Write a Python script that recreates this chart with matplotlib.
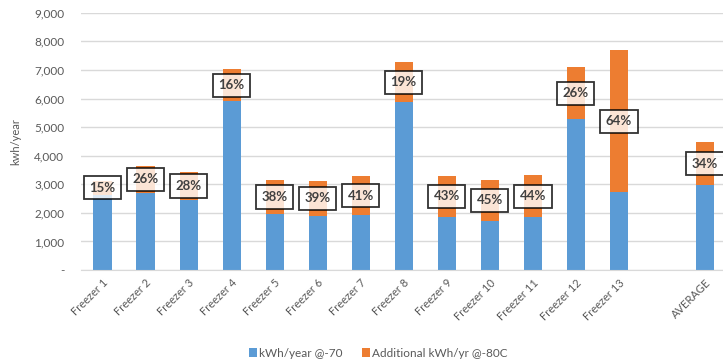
import matplotlib.pyplot as plt
from matplotlib.ticker import FuncFormatter

categories = ['Freezer 1', 'Freezer 2', 'Freezer 3', 'Freezer 4', 'Freezer 5',
              'Freezer 6', 'Freezer 7', 'Freezer 8', 'Freezer 9', 'Freezer 10',
              'Freezer 11', 'Freezer 12', 'Freezer 13', 'AVERAGE']
# slot index of each category (one empty slot before AVERAGE)
slots = [0, 1, 2, 3, 4, 5, 6, 7, 8, 9, 10, 11, 12, 14]
kwh_70 = [2640, 2700, 2460, 5900, 1960, 1900, 1930, 5890, 1870, 1730, 1850, 5270, 2740, 2960]
extra_80 = [470, 950, 960, 1120, 1190, 1210, 1350, 1370, 1410, 1420, 1460, 1830, 4940, 1530]
pct_labels = ['15%', '26%', '28%', '16%', '38%', '39%', '41%', '19%', '43%', '45%',
              '44%', '26%', '64%', '34%']

plt.rcParams['font.family'] = ['Lato', 'DejaVu Sans']

blue = '#5B9BD5'
orange = '#ED7D31'
grey = '#595959'

fig = plt.figure(figsize=(7.23, 3.64), dpi=100)
ax = fig.add_axes([0.112, 0.258, 0.888, 0.707])

ax.bar(slots, kwh_70, width=0.42, color=blue, label='kWh/year @-70', zorder=2)
ax.bar(slots, extra_80, bottom=kwh_70, width=0.42, color=orange,
       label='Additional kWh/yr @-80C', zorder=2)

for x, b, e, t in zip(slots, kwh_70, extra_80, pct_labels):
    ax.text(x, b + e / 2, t, ha='center', va='center', fontsize=9.5,
            fontweight='bold', color='#404040', zorder=3,
            bbox=dict(boxstyle='square,pad=0.42', facecolor='white', alpha=0.8,
                      edgecolor='black', linewidth=1.3))

ax.set_xlim(-0.5, 14.42)
ax.set_ylim(0, 9000)
ax.set_yticks(range(0, 9001, 1000))
ax.yaxis.set_major_formatter(FuncFormatter(lambda v, p: '-' if v == 0 else f'{int(v):,}'))
ax.set_xticks(slots)
ax.set_xticklabels(categories, rotation=45, ha='right', rotation_mode='anchor',
                   fontsize=8, color=grey)
ax.tick_params(axis='y', labelsize=8.5, colors=grey, length=0, pad=12)
ax.tick_params(axis='x', length=0, pad=5)
ax.grid(axis='y', color='#D9D9D9', linewidth=1, zorder=0)
for s in ['top', 'right', 'left']:
    ax.spines[s].set_visible(False)
ax.spines['bottom'].set_color('#D9D9D9')
ax.set_ylabel('kwh/year', fontsize=8, color=grey, labelpad=9)

fig.legend(loc='center', bbox_to_anchor=(0.523, 0.03), ncol=2, frameon=False,
           fontsize=8.5, handlelength=0.7, handleheight=0.7, columnspacing=1.6,
           handletextpad=0.2, labelcolor=grey)

fig.savefig('out.png', dpi=100)
